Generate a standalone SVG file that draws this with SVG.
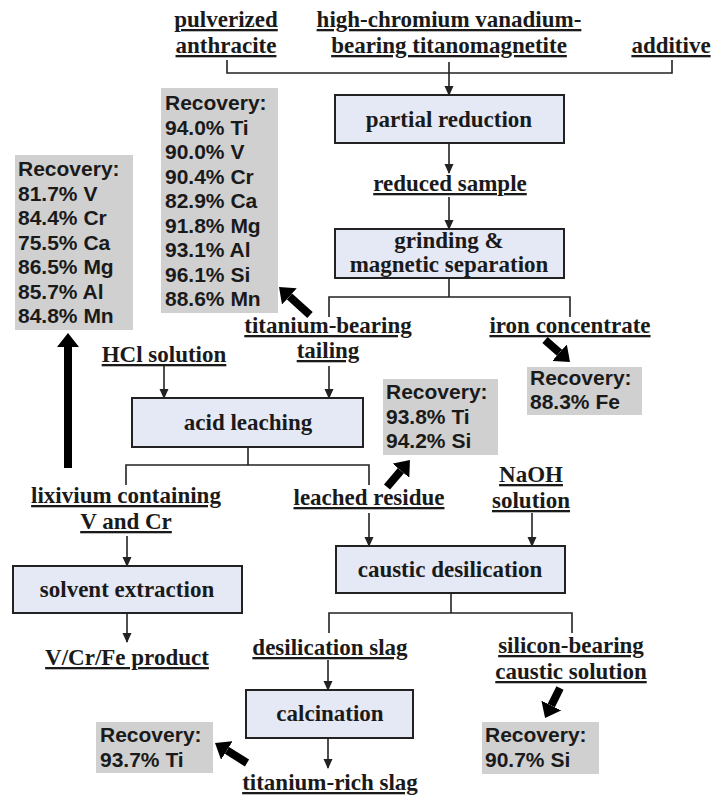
<svg xmlns="http://www.w3.org/2000/svg" width="713" height="797" viewBox="0 0 713 797">
<defs>
<style>
.lbl{font-family:"Liberation Serif","Times New Roman",serif;font-weight:bold;font-size:23px;fill:#1a1a1a;text-anchor:middle;text-decoration:underline}
.bt{font-family:"Liberation Serif","Times New Roman",serif;font-weight:bold;font-size:23px;fill:#1a1a1a;text-anchor:middle}
.box{fill:#E5E9F5;stroke:#222;stroke-width:2}
.rec{fill:#D0D0D0}
.rt{font-family:"Liberation Sans",Arial,sans-serif;font-weight:bold;font-size:21px;fill:#1a1a1a}
.ln{fill:none;stroke:#222;stroke-width:1.6}
.ar{fill:none;stroke:#222;stroke-width:1.6;marker-end:url(#ah)}
.fat{fill:none;stroke:#000;stroke-width:8;marker-end:url(#fh)}
</style>
<marker id="ah" markerUnits="userSpaceOnUse" viewBox="0 0 10 10" markerWidth="10" markerHeight="10" refX="9" refY="5" orient="auto">
<path d="M0,0.5 L10,5 L0,9.5 z" fill="#222"/>
</marker>
<marker id="fh" markerUnits="userSpaceOnUse" viewBox="0 0 14 22" markerWidth="14" markerHeight="22" refX="0" refY="11" orient="auto">
<path d="M0,0 L14,11 L0,22 z" fill="#000"/>
</marker>
</defs>

<g id="connectors">
<polyline class="ln" points="227,60 227,73 672,73 672,60"/>
<line class="ar" x1="449" y1="62" x2="449" y2="95"/>
<line class="ar" x1="449" y1="143" x2="449" y2="173"/>
<line class="ar" x1="449" y1="197" x2="449" y2="229"/>
<line class="ln" x1="449" y1="278" x2="449" y2="297"/>
<polyline class="ln" points="329,317 329,297 570,297 570,317"/>
<line class="ar" x1="164" y1="366" x2="164" y2="398"/>
<line class="ar" x1="329" y1="366" x2="329" y2="398"/>
<line class="ln" x1="248" y1="447" x2="248" y2="465"/>
<polyline class="ln" points="126,485 126,465 369,465 369,485"/>
<line class="ar" x1="127" y1="536" x2="127" y2="566"/>
<line class="ar" x1="127" y1="613" x2="127" y2="642"/>
<line class="ar" x1="369" y1="513" x2="369" y2="546"/>
<line class="ar" x1="532" y1="513" x2="532" y2="546"/>
<line class="ln" x1="451" y1="593" x2="451" y2="613"/>
<polyline class="ln" points="329,633 329,613 572,613 572,633"/>
<line class="ar" x1="328" y1="660" x2="328" y2="690"/>
<line class="ar" x1="328" y1="738" x2="328" y2="768"/>
<line class="fat" x1="310" y1="315" x2="289.4" y2="296.4"/>
<line class="fat" x1="545" y1="340" x2="559.5" y2="352.7"/>
<line class="fat" x1="387" y1="487" x2="400.9" y2="470.6"/>
<line class="fat" x1="560" y1="688" x2="551.3" y2="705.5"/>
<line class="fat" x1="247" y1="763" x2="226.9" y2="750.4"/>
<line class="fat" x1="68" y1="468" x2="68" y2="347"/>
</g>

<g id="pulverized-anthracite">
<text class="lbl" x="226" y="27">pulverized</text>
<text class="lbl" x="226" y="53">anthracite</text>
</g>
<g id="titanomagnetite">
<text class="lbl" x="449" y="27">high-chromium vanadium-</text>
<text class="lbl" x="449" y="53">bearing titanomagnetite</text>
</g>
<g id="additive">
<text class="lbl" x="671" y="53">additive</text>
</g>
<g id="partial-reduction">
<rect class="box" x="335" y="95" width="229" height="48"/>
<text class="bt" x="449" y="127">partial reduction</text>
</g>
<g id="reduced-sample">
<text class="lbl" x="450" y="191">reduced sample</text>
</g>
<g id="grinding">
<rect class="box" x="335" y="229" width="229" height="49"/>
<text class="bt" x="449" y="248">grinding &amp;</text>
<text class="bt" x="449" y="272">magnetic separation</text>
</g>
<g id="recovery-tailing">
<rect class="rec" x="161" y="88" width="117" height="225"/>
<text class="rt" x="165" y="110">Recovery:</text>
<text class="rt" x="165" y="134.5">94.0% Ti</text>
<text class="rt" x="165" y="159">90.0% V</text>
<text class="rt" x="165" y="183.5">90.4% Cr</text>
<text class="rt" x="165" y="208">82.9% Ca</text>
<text class="rt" x="165" y="232.5">91.8% Mg</text>
<text class="rt" x="165" y="257">93.1% Al</text>
<text class="rt" x="165" y="281.5">96.1% Si</text>
<text class="rt" x="165" y="306">88.6% Mn</text>
</g>
<g id="recovery-lixivium">
<rect class="rec" x="15" y="155" width="118" height="175"/>
<text class="rt" x="18" y="176">Recovery:</text>
<text class="rt" x="18" y="200.5">81.7% V</text>
<text class="rt" x="18" y="225">84.4% Cr</text>
<text class="rt" x="18" y="249.5">75.5% Ca</text>
<text class="rt" x="18" y="274">86.5% Mg</text>
<text class="rt" x="18" y="298.5">85.7% Al</text>
<text class="rt" x="18" y="323">84.8% Mn</text>
</g>
<g id="titanium-bearing-tailing">
<text class="lbl" x="328" y="333">titanium-bearing</text>
<text class="lbl" x="328" y="358">tailing</text>
</g>
<g id="iron-concentrate">
<text class="lbl" x="570" y="333">iron concentrate</text>
</g>
<g id="recovery-fe">
<rect class="rec" x="527" y="367" width="115" height="48"/>
<text class="rt" x="530" y="385">Recovery:</text>
<text class="rt" x="530" y="409">88.3% Fe</text>
</g>
<g id="hcl-solution">
<text class="lbl" x="164" y="362">HCl solution</text>
</g>
<g id="acid-leaching">
<rect class="box" x="132" y="398" width="231" height="49"/>
<text class="bt" x="248" y="430">acid leaching</text>
</g>
<g id="recovery-residue">
<rect class="rec" x="383" y="379" width="115" height="76"/>
<text class="rt" x="386" y="399">Recovery:</text>
<text class="rt" x="386" y="424">93.8% Ti</text>
<text class="rt" x="386" y="448">94.2% Si</text>
</g>
<g id="lixivium">
<text class="lbl" x="126" y="503">lixivium containing</text>
<text class="lbl" x="126" y="529">V and Cr</text>
</g>
<g id="leached-residue">
<text class="lbl" x="369" y="505">leached residue</text>
</g>
<g id="naoh-solution">
<text class="lbl" x="531" y="482">NaOH</text>
<text class="lbl" x="531" y="508">solution</text>
</g>
<g id="solvent-extraction">
<rect class="box" x="13" y="566" width="229" height="47"/>
<text class="bt" x="127" y="597">solvent extraction</text>
</g>
<g id="caustic-desilication">
<rect class="box" x="336" y="546" width="229" height="47"/>
<text class="bt" x="450" y="577">caustic desilication</text>
</g>
<g id="vcrfe-product">
<text class="lbl" x="127" y="665">V/Cr/Fe product</text>
</g>
<g id="desilication-slag">
<text class="lbl" x="330" y="655">desilication slag</text>
</g>
<g id="silicon-bearing-solution">
<text class="lbl" x="571" y="653">silicon-bearing</text>
<text class="lbl" x="571" y="679">caustic solution</text>
</g>
<g id="calcination">
<rect class="box" x="246" y="690" width="167" height="48"/>
<text class="bt" x="330" y="721">calcination</text>
</g>
<g id="titanium-rich-slag">
<text class="lbl" x="330" y="790">titanium-rich slag</text>
</g>
<g id="recovery-ti-slag">
<rect class="rec" x="96" y="722" width="117" height="51"/>
<text class="rt" x="100" y="742">Recovery:</text>
<text class="rt" x="100" y="767">93.7% Ti</text>
</g>
<g id="recovery-si">
<rect class="rec" x="482" y="722" width="117" height="52"/>
<text class="rt" x="485" y="742">Recovery:</text>
<text class="rt" x="485" y="767">90.7% Si</text>
</g>
</svg>
